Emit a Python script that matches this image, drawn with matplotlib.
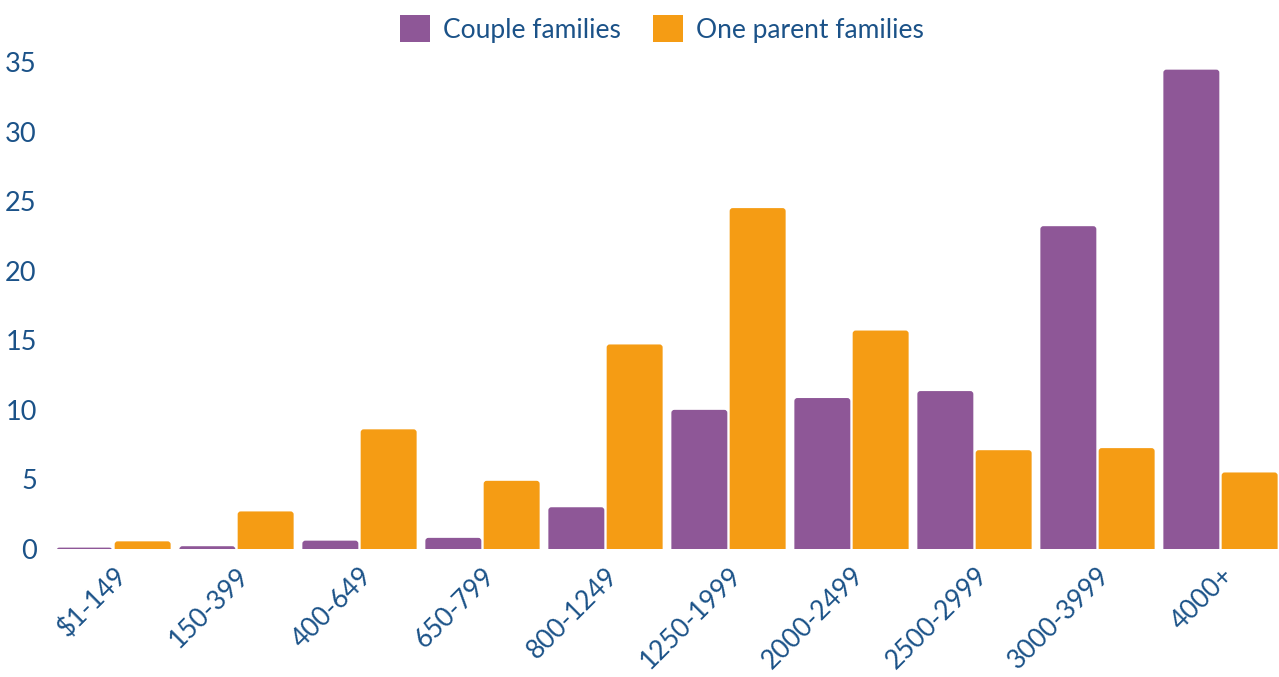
import matplotlib
matplotlib.use("Agg")
import matplotlib.pyplot as plt
from matplotlib.patches import FancyBboxPatch, Patch
import numpy as np

categories = ["$1-149", "150-399", "400-649", "650-799", "800-1249",
              "1250-1999", "2000-2499", "2500-2999", "3000-3999", "4000+"]
couple = [0.1, 0.2, 0.6, 0.8, 3.0, 10.0, 10.85, 11.35, 23.2, 34.45]
one_parent = [0.55, 2.7, 8.6, 4.9, 14.7, 24.5, 15.7, 7.1, 7.25, 5.5]
yticks = [0, 5, 10, 15, 20, 25, 30, 35]

purple = "#8e5797"
orange = "#f59c14"
text_col = "#1b5288"

plt.rcParams['font.family'] = ['Lato', 'DejaVu Sans']

W, H = 1279, 677
fig = plt.figure(figsize=(W / 100, H / 100), dpi=100)
ax_l, ax_b, ax_w, ax_h = 52, 128, 1230, 487
ax = fig.add_axes([ax_l / W, ax_b / H, ax_w / W, ax_h / H])

x = np.arange(len(categories))
w = 0.455
b1 = ax.bar(x - 0.237, couple, w, color=purple, label="Couple families")
b2 = ax.bar(x + 0.237, one_parent, w, color=orange, label="One parent families")

ax.set_xlim(-0.5, len(categories) - 0.5)
ax.set_ylim(0, 35)

# rounded top corners
xpp = len(categories) / ax_w   # data x per pixel
ypp = 35 / ax_h                # data y per pixel
aspect = ypp / xpp
for bars in (b1, b2):
    for p in bars.patches:
        x0, y0 = p.get_x(), p.get_y()
        bw, bh = p.get_width(), p.get_height()
        r_px = 3.0
        rs = r_px * xpp
        ext = r_px * ypp
        fb = FancyBboxPatch((x0, y0 - ext), bw, bh + ext,
                            boxstyle=f"round,pad=0,rounding_size={rs}",
                            mutation_aspect=aspect,
                            facecolor=p.get_facecolor(), edgecolor='none',
                            clip_on=True)
        ax.add_patch(fb)
        p.set_visible(False)

ax.set_yticks(yticks)
ax.set_yticklabels([str(t) for t in yticks], fontsize=19.5, color=text_col)
ax.set_xticks(x)
ax.set_xticklabels(categories, fontsize=19, color=text_col, rotation=45,
                   ha='right', rotation_mode='anchor')
ax.tick_params(axis='both', length=0)
ax.tick_params(axis='y', pad=11)
ax.tick_params(axis='x', pad=10)
for s in ax.spines.values():
    s.set_visible(False)

handles = [Patch(facecolor=purple), Patch(facecolor=orange)]
leg = fig.legend(handles, ["Couple families", "One parent families"],
                 loc='center', bbox_to_anchor=(662 / W, 1 - 29 / H), ncol=2,
                 frameon=False, fontsize=19, handlelength=1.15, handleheight=1.2,
                 handletextpad=0.5, columnspacing=1.2, borderpad=0)
for t in leg.get_texts():
    t.set_color(text_col)

fig.savefig("out.png", dpi=100)
